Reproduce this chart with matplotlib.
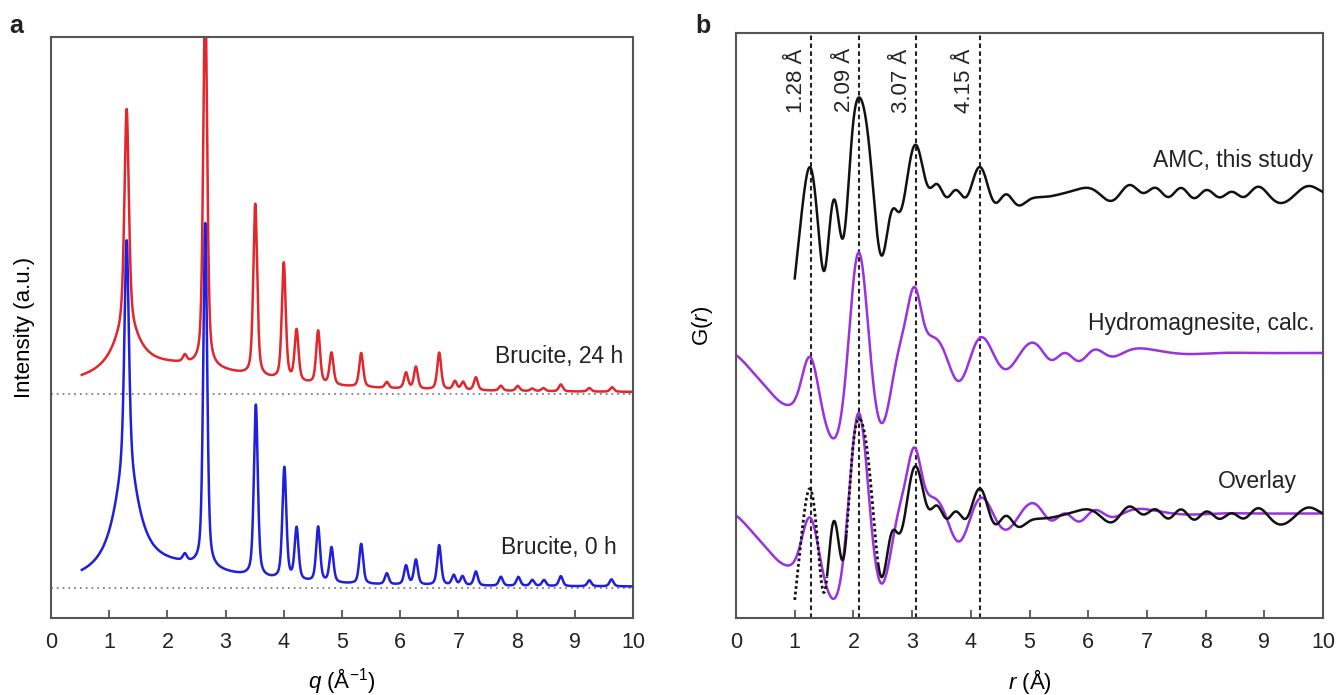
import numpy as np
import matplotlib
matplotlib.use("Agg")
import matplotlib.pyplot as plt

plt.rcParams['font.family'] = ['Liberation Sans', 'DejaVu Sans']
plt.rcParams['mathtext.fontset'] = 'custom'
plt.rcParams['mathtext.rm'] = 'Liberation Sans'
plt.rcParams['mathtext.it'] = 'Liberation Sans:italic'

# ---- panel a: Bragg peaks (q in 1/A, height in a.u. above baseline)
peaks_q_0h = [2.30, 2.65, 3.52, 4.01, 4.22, 4.59, 4.82, 5.33, 5.77, 6.10, 6.27, 6.67,
              6.92, 7.07, 7.30, 7.73, 8.03, 8.27, 8.47, 8.76, 9.25, 9.63]
peaks_h_0h = [0.7, 34.4, 17.2, 11.2, 5.2, 5.5, 3.5, 4.0, 1.1, 1.9, 2.5, 4.0,
              1.0, 0.9, 1.4, 0.9, 0.9, 0.6, 0.6, 1.0, 0.6, 0.7]
peaks_q_24h = [2.30, 2.65, 3.51, 4.00, 4.22, 4.59, 4.82, 5.33, 5.77, 6.10, 6.27, 6.67,
               6.94, 7.08, 7.30, 7.73, 8.02, 8.27, 8.46, 8.76, 9.25, 9.64]
peaks_h_24h = [0.7, 38.0, 17.2, 11.7, 5.1, 5.3, 3.2, 3.4, 0.6, 1.6, 2.2, 3.7,
               0.85, 0.8, 1.3, 0.5, 0.5, 0.25, 0.3, 0.7, 0.35, 0.45]
# (001) reflection at 1.30 and the diffuse scattering: centre, height, half width
main_0h = (1.30, 22.5)
main_24h = (1.30, 21.6)
diffuse_0h = [(1.30, 11.0, 0.25), (2.20, 1.8, 1.2)]
diffuse_24h = [(1.30, 4.8, 0.27), (2.20, 2.6, 1.6)]
baseline_0h = 3.0
baseline_24h = 22.4

# ---- panel b: G(r) read at extrema and turning points (r in A, G in a.u.)
amc_r = [0.85, 1.01, 1.28, 1.39, 1.50, 1.59, 1.69, 1.83, 1.96, 2.08, 2.27, 2.47,
         2.64, 2.78, 2.92, 3.07, 3.28, 3.42, 3.58, 3.75, 3.92, 4.15, 4.40, 4.57, 4.77,
         4.94, 5.24, 5.60, 5.92, 6.10, 6.46, 6.71, 6.94, 7.16, 7.36, 7.59, 7.79, 8.02,
         8.21, 8.47, 8.64, 8.87, 9.16, 9.44, 9.76, 10.0]
amc_g = [-12.5, -8.1, 2.3, -2.8, -7.9, -3.8, -0.9, -4.5, 4.5, 9.4, 4.5, -6.3,
         -2.1, -2.0, 1.5, 4.7, 0.5, 0.8, -0.5, 0.2, -0.5, 2.5, -1.0, -0.3, -1.2,
         -1.0, -0.5, -0.1, 0.4, 0.2, -0.7, 0.7, -0.1, 0.4, -0.5, 0.4, -0.6, 0.2,
         -0.5, 0.0, -0.5, 0.5, -0.8, -0.7, 0.6, 0.0]
hydro_r = [0.00, 0.45, 0.88, 1.08, 1.26, 1.42, 1.64, 1.87, 2.08, 2.27, 2.49, 2.73,
           2.86, 3.04, 3.15, 3.27, 3.55, 3.79, 4.15, 4.52, 4.91, 5.18, 5.38, 5.61,
           5.83, 6.09, 6.32, 6.71, 7.22, 7.68, 8.20, 8.80, 9.40, 10.0]
hydro_g = [-0.2, -3.0, -5.2, -3.4, -0.4, -4.0, -8.5, -2.0, 10.0, 1.3, -7.0, -0.8,
           2.6, 6.6, 4.4, 2.0, 0.1, -2.8, 1.5, -1.4, 0.5, 0.5, -0.7, 0.0,
           -0.8, 0.3, -0.2, 0.3, 0.2, -0.1, 0.0, 0.0, 0.0, 0.0]
marker_r = [1.28, 2.09, 3.07, 4.15]
amc_offset = 42.6
hydro_offset = 26.5
overlay_offset = 10.45


def pseudo_voigt(x, c, h, w, eta=0.5):
    u = ((x - c) / w) ** 2
    return h * (eta / (1 + u) + (1 - eta) * np.exp(-np.log(2) * u))


def pattern(x, main, centres, heights, diffuse, hwhm=0.04):
    y = np.full_like(x, 0.1)
    y += pseudo_voigt(x, main[0], main[1], 0.045)
    for c, h in zip(centres, heights):
        y += pseudo_voigt(x, c, h, hwhm)
    for c, h, w in diffuse:
        y += h / (1 + ((x - c) / w) ** 2)
    return y


def smooth_through(r_pts, g_pts, r, k=0.75):
    # gaussian basis through the read points, widths follow the point spacing
    r_pts = np.asarray(r_pts)
    gaps = np.diff(r_pts)
    w = k * np.concatenate([[gaps[0]], (gaps[:-1] + gaps[1:]) / 2, [gaps[-1]]])
    K = np.exp(-0.5 * ((r_pts[:, None] - r_pts[None, :]) / w[None, :]) ** 2)
    amp = np.linalg.solve(K, np.asarray(g_pts))
    B = np.exp(-0.5 * ((r[:, None] - r_pts[None, :]) / w[None, :]) ** 2)
    return B @ amp


fig = plt.figure(figsize=(13.38, 6.95), dpi=100)
axa = fig.add_axes([0.0381, 0.1108, 0.435, 0.836])
axb = fig.add_axes([0.5501, 0.1108, 0.4387, 0.8417])

spine_col = '#555555'
text_col = '#222222'
red = '#e3262b'
blue = '#1f1fdc'
purple = '#9933e0'

# ---------------- panel a
q = np.linspace(0.53, 10, 6000)
y24 = baseline_24h + pattern(q, main_24h, peaks_q_24h, peaks_h_24h, diffuse_24h)
y0 = baseline_0h + pattern(q, main_0h, peaks_q_0h, peaks_h_0h, diffuse_0h)

for b in (baseline_24h, baseline_0h):
    axa.axhline(b, color='#808080', lw=1.3, ls=(0, (1, 2.2)), zorder=1)
axa.plot(q, y24, color=red, lw=1.8, zorder=2)
axa.plot(q, y0, color=blue, lw=1.8, zorder=3)

axa.text(9.83, 26.1, 'Brucite, 24 h', ha='right', va='center', fontsize=16.5, color=text_col)
axa.text(9.72, 7.0, 'Brucite, 0 h', ha='right', va='center', fontsize=16.5, color=text_col)

axa.set_xlim(0, 10)
axa.set_ylim(0, 58.1)
axa.set_yticks([])
axa.set_xlabel(r'$q$ (Å$^{-1}$)', fontsize=16)
axa.set_ylabel('Intensity (a.u.)', fontsize=16)
axa.yaxis.set_label_coords(-0.028, 0.5)
axa.xaxis.set_label_coords(0.5, -0.083)

# ---------------- panel b
r_amc = np.linspace(1.0, 10, 3000)
r_hyd = np.linspace(0.0, 10, 3000)
g_amc = smooth_through(amc_r, amc_g, r_amc)
g_hyd = smooth_through(hydro_r, hydro_g, r_hyd)

for rm in marker_r:
    axb.axvline(rm, color=text_col, lw=1.5, ls=(0, (2.2, 1.6)), zorder=1)
    axb.annotate(f'{rm:.2f} Å', xy=(rm, 1), xycoords=('data', 'axes fraction'),
                 xytext=(-3, -11), textcoords='offset points', rotation=90,
                 ha='right', va='top', fontsize=16, color=text_col)

axb.plot(r_amc, amc_offset + g_amc, color='#111111', lw=1.8, zorder=3)
axb.plot(r_hyd, hydro_offset + g_hyd, color=purple, lw=1.8, zorder=2)
axb.plot(r_hyd, overlay_offset + g_hyd, color=purple, lw=1.8, zorder=2)

# overlay: experimental curve dotted where it runs under the calculation
dotted = (r_amc < 1.55) | ((r_amc > 1.88) & (r_amc < 2.42))
solid_part = np.where(dotted, np.nan, overlay_offset + g_amc)
dotted_part = np.where(dotted, overlay_offset + g_amc, np.nan)
axb.plot(r_amc, solid_part, color='#111111', lw=1.8, zorder=3)
axb.plot(r_amc, dotted_part, color='#111111', lw=2.0, ls=(0, (1, 1)), zorder=3)

axb.text(9.83, 45.8, 'AMC, this study', ha='right', va='center', fontsize=16.5, color=text_col)
axb.text(9.86, 29.5, 'Hydromagnesite, calc.', ha='right', va='center', fontsize=16.5, color=text_col)
axb.text(9.56, 13.6, 'Overlay', ha='right', va='center', fontsize=16.5, color=text_col)

axb.set_xlim(0, 10)
axb.set_ylim(0, 58.5)
axb.set_yticks([])
axb.set_xlabel(r'$r$ (Å)', fontsize=16)
axb.set_ylabel(r'G($r$)', fontsize=16)
axb.yaxis.set_label_coords(-0.036, 0.5)
axb.xaxis.set_label_coords(0.5, -0.083)

for ax in (axa, axb):
    ax.set_xticks(range(0, 11))
    ax.tick_params(axis='x', direction='in', length=6, width=1.3, color=spine_col,
                   labelsize=15.5, pad=10, top=False, labelcolor=text_col)
    for s in ax.spines.values():
        s.set_color(spine_col)
        s.set_linewidth(1.5)

fig.text(0.007, 1 - 33 / 695, 'a', fontsize=18, fontweight='bold', color=text_col, va='baseline')
fig.text(0.520, 1 - 33 / 695, 'b', fontsize=18, fontweight='bold', color=text_col, va='baseline')

fig.savefig('out.png', dpi=100)
